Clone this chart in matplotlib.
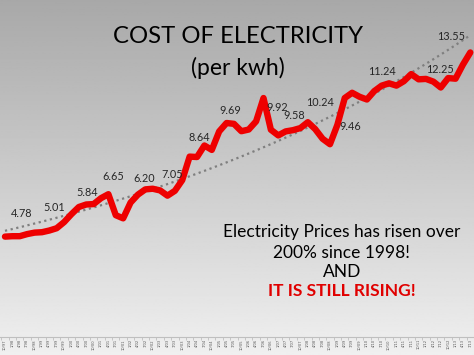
import numpy as np
import matplotlib
matplotlib.use("Agg")
import matplotlib.pyplot as plt

# quarterly price (cents per kwh)
price = [4.78, 4.80, 4.80, 4.90, 4.97, 4.99, 5.07, 5.18, 5.47, 5.85,
         6.19, 6.31, 6.33, 6.61, 6.80, 5.80, 5.65, 6.40, 6.78, 7.03,
         7.06, 6.98, 6.73, 6.96, 7.47, 8.59, 8.57, 9.12, 8.91, 9.79,
         10.19, 10.15, 9.80, 9.88, 10.27, 11.38, 9.87, 9.60, 9.79, 9.85,
         9.95, 10.23, 9.90, 9.44, 9.18, 10.10, 11.38, 11.63, 11.44, 11.31,
         11.71, 11.97, 12.08, 11.97, 12.18, 12.52, 12.27, 12.29, 12.16, 11.88,
         12.33, 12.30, 12.97, 13.55]

# tick labels every quarter
quarters = []
for k in range(len(price)):
    m = 10 + 3 * k
    yr = 97 + (m - 1) // 12
    quarters.append("%d/%02d" % ((m - 1) % 12 + 1, yr % 100))

# callouts on the line
callout_text = ["4.78", "5.01", "5.84", "6.65", "6.20", "7.05", "8.64", "9.69",
                "9.92", "9.58", "10.24", "9.46", "11.24", "12.25", "13.55"]
callout_x = [2.3, 6.7, 11.1, 14.6, 18.8, 22.7, 26.3, 30.5,
             36.8, 39.1, 42.6, 46.8, 51.0, 58.9, 60.4]
callout_y = [5.86, 6.18, 6.86, 7.63, 7.56, 7.75, 9.49, 10.78,
             10.94, 10.57, 11.18, 10.02, 12.63, 12.75, 14.29]

fig = plt.figure(figsize=(4.74, 3.55), dpi=100)

# slide background, grey gradient
bg = fig.add_axes([0, 0, 1, 1], zorder=0)
grad = np.linspace(0.66, 0.94, 256).reshape(-1, 1)
bg.imshow(grad, cmap="gray", vmin=0, vmax=1, aspect="auto", extent=[0, 1, 0, 1])
bg.axis("off")

ax = fig.add_axes([0, 18 / 355, 1, 336 / 355], zorder=1)
ax.patch.set_alpha(0)

idx = np.arange(len(price))
ax.plot(idx, price, color="#ee0000", lw=4.6, solid_joinstyle="round",
        solid_capstyle="round", zorder=3)

# exponential trend line
b, a = np.polyfit(idx, np.log(price), 1)
ax.plot(idx, np.exp(a + b * idx), color="#7f7f7f", lw=1.6,
        linestyle=(0, (1, 1.6)), zorder=2)

for t, x, y in zip(callout_text, callout_x, callout_y):
    ax.text(x, y, t, ha="center", va="center", fontsize=7.8,
            color="#262626", family="Lato", zorder=4)

ax.set_xlim(-0.675, -0.675 + 474 / 7.41)
ax.set_ylim(0, 16)
ax.set_yticks([])
ax.set_xticks(idx)
ax.set_xticklabels(quarters, rotation=90, fontsize=2.6, color="#595959")
ax.set_xticks(np.arange(len(price) + 1) - 0.5, minor=True)
ax.tick_params(axis="x", which="major", length=0, pad=1.5)
ax.tick_params(axis="x", which="minor", length=2, color="#bfbfbf", width=0.6)
for s in ["top", "left", "right"]:
    ax.spines[s].set_visible(False)
ax.spines["bottom"].set_color("#bfbfbf")
ax.spines["bottom"].set_linewidth(0.8)

fig.text(0.502, 0.896, "COST OF ELECTRICITY", ha="center", va="center",
         fontsize=17.2, family="Lato", color="black")
fig.text(0.502, 0.808, "(per kwh)", ha="center", va="center",
         fontsize=16.5, family="Lato", color="black")

fig.text(0.721, 0.346, "Electricity Prices has risen over", ha="center",
         va="center", fontsize=12.5, family="Lato", color="black")
fig.text(0.721, 0.288, "200% since 1998!", ha="center", va="center",
         fontsize=12.5, family="Lato", color="black")
fig.text(0.721, 0.234, "AND", ha="center", va="center",
         fontsize=12.5, family="Lato", color="black")
fig.text(0.721, 0.179, "IT IS STILL RISING!", ha="center", va="center",
         fontsize=12.5, family="Lato", weight="bold", color="#e00000")

fig.savefig("out.png", dpi=100)
